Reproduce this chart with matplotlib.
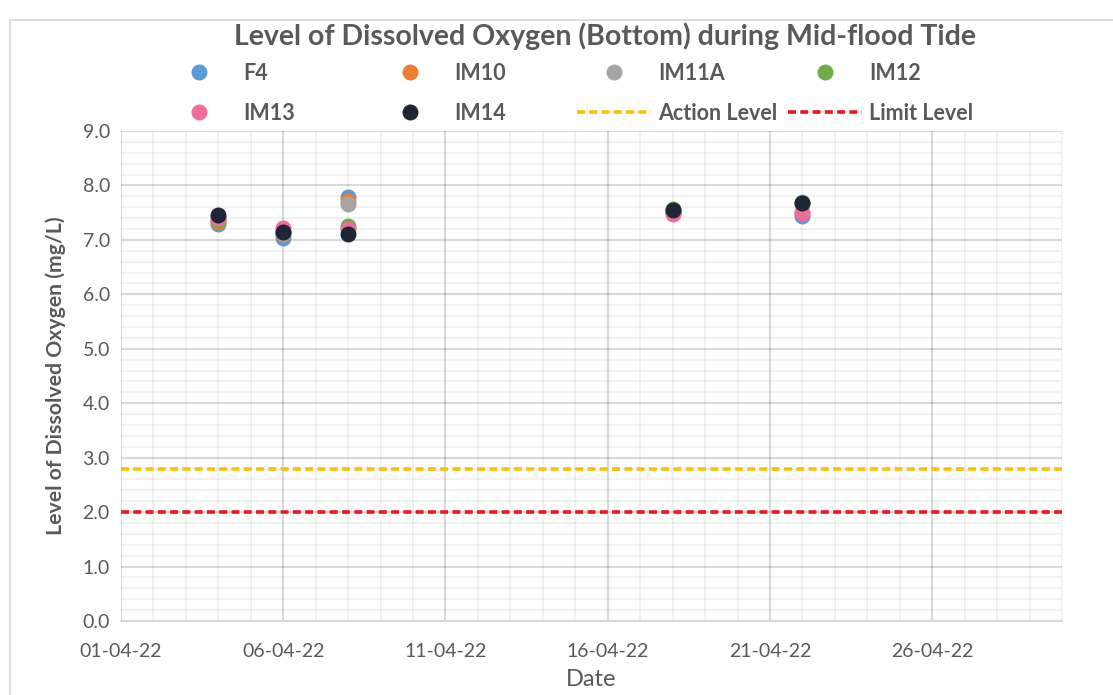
import matplotlib
matplotlib.use('Agg')
import matplotlib.pyplot as plt
import matplotlib.dates as mdates
from matplotlib.patches import Rectangle
import pandas as pd

plt.rcParams['font.family'] = ['Lato', 'DejaVu Sans']

# sampling dates and bottom DO readings (mg/L)
dates = pd.to_datetime(['2022-04-04', '2022-04-06', '2022-04-08', '2022-04-18', '2022-04-22'])
f4 = [7.30, 7.04, 7.79, 7.52, 7.43]
im10 = [7.33, 7.10, 7.72, 7.52, 7.52]
im11a = [7.38, 7.13, 7.66, 7.53, 7.70]
im12 = [7.36, 7.15, 7.26, 7.56, 7.68]
im13 = [7.40, 7.22, 7.20, 7.48, 7.50]
im14 = [7.45, 7.15, 7.11, 7.54, 7.67]

stations = ['F4', 'IM10', 'IM11A', 'IM12', 'IM13', 'IM14']
station_values = [f4, im10, im11a, im12, im13, im14]
colors = ['#5B9BD5', '#ED7D31', '#A5A5A5', '#70AD47', '#F06C9B', '#1C2636']

action_level = 2.8
limit_level = 2.0

x_start = pd.Timestamp('2022-04-01')
x_end = pd.Timestamp('2022-04-30')

TXT = '#595959'

fig = plt.figure(figsize=(11.13, 6.95), dpi=100)
ax = fig.add_axes([121 / 1113, 1 - 621 / 695, (1062 - 121) / 1113, (621 - 131) / 695])

# chart area border (only top and left edges fall inside the picture)
fig.patches.append(Rectangle((9.5 / 1113, -0.1), 1.2, 1.1 - 20.5 / 695,
                             transform=fig.transFigure, fill=False,
                             edgecolor='#d9d9d9', linewidth=1.2))

handles = []
for name, vals, c in zip(stations, station_values, colors):
    h, = ax.plot(dates, vals, linestyle='none', marker='o', markersize=11.5,
                 color=c, markeredgewidth=0, label=name, zorder=3)
    handles.append(h)

ha, = ax.plot([x_start, x_end], [action_level, action_level], color='#FFC000',
              linestyle=(0, (2.2, 1.2)), linewidth=2.6, label='Action Level', zorder=2)
hl, = ax.plot([x_start, x_end], [limit_level, limit_level], color='#F0141E',
              linestyle=(0, (2.2, 1.2)), linewidth=2.6, label='Limit Level', zorder=2)

ax.set_xlim(x_start, x_end)
ax.set_ylim(0, 9)
ax.xaxis.set_major_locator(mdates.DayLocator(bymonthday=[1, 6, 11, 16, 21, 26]))
ax.xaxis.set_minor_locator(mdates.DayLocator())
ax.xaxis.set_major_formatter(mdates.DateFormatter('%d-%m-%y'))
ax.set_yticks([i * 1.0 for i in range(10)])
ax.set_yticks([i * 0.2 for i in range(46)], minor=True)
ax.yaxis.set_major_formatter(matplotlib.ticker.FormatStrFormatter('%.1f'))

# translucent grey so crossings don't cut holes in the major lines
ax.grid(which='minor', color='black', alpha=0.05, linewidth=1.5)
ax.grid(which='major', color='black', alpha=0.15, linewidth=1.5)
ax.set_axisbelow(True)
for s in ['top', 'right', 'left']:
    ax.spines[s].set_visible(False)
ax.spines['bottom'].set_color('#d9d9d9')
ax.spines['bottom'].set_linewidth(1.5)

ax.tick_params(which='both', length=0, labelsize=14, labelcolor=TXT)
ax.tick_params(axis='x', pad=16)
ax.tick_params(axis='y', pad=8)

ax.set_xlabel('Date', fontsize=17, color=TXT, labelpad=6)
ax.set_ylabel('Level of Dissolved Oxygen (mg/L)', fontsize=15.3, color=TXT,
              fontweight='bold', labelpad=12)

fig.text(605 / 1113, 1 - 36 / 695, 'Level of Dissolved Oxygen (Bottom) during Mid-flood Tide',
         ha='center', va='center', fontsize=20.5, fontweight='bold', color=TXT)

# legend: one small legend per entry to get the even Excel-style spacing
entries = [(handles[0], 162, 73), (handles[1], 373, 73), (handles[2], 577, 73), (handles[3], 788, 73),
           (handles[4], 162, 113), (handles[5], 373, 113), (ha, 577, 113), (hl, 788, 113)]
for h, px, py in entries:
    leg = fig.legend(handles=[h], loc='center left',
                     bbox_to_anchor=(px / 1113, 1 - py / 695),
                     frameon=False, borderpad=0, borderaxespad=0,
                     handlelength=3.45, handletextpad=0.33,
                     prop={'size': 15.5, 'weight': 'bold'})
    for t in leg.get_texts():
        t.set_color(TXT)

fig.savefig('out.png', dpi=100)
